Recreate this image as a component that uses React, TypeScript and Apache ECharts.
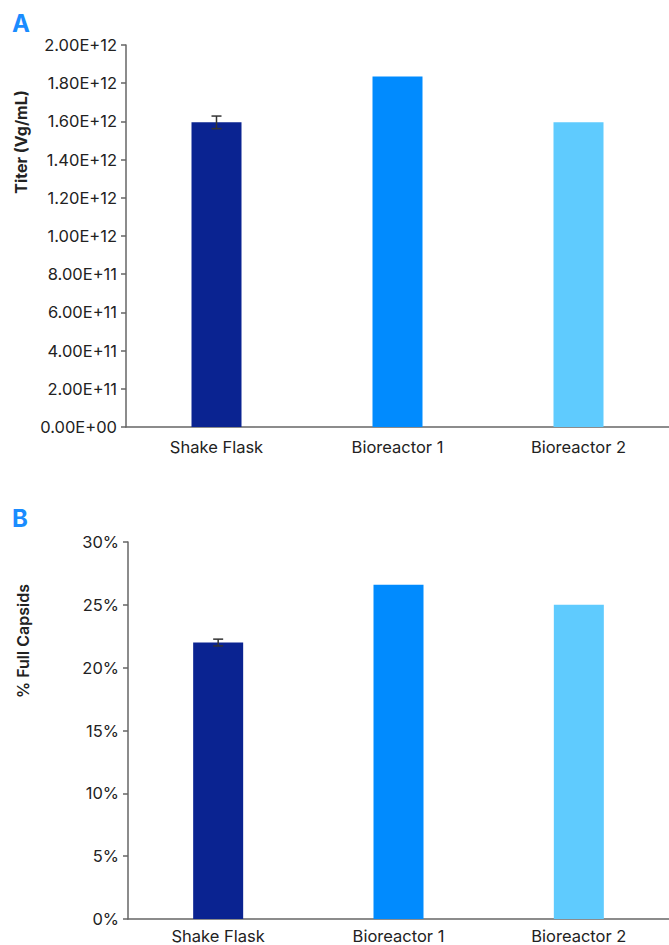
import React, { useEffect, useRef } from "react";
import * as echarts from "echarts";

const categories = ["Shake Flask", "Bioreactor 1", "Bioreactor 2"];
const titerValues = [1.595e12, 1.835e12, 1.595e12];
const titerErrors = [0.033e12, 0, 0];
const fullCapsidValues = [22.0, 26.6, 25.0];
const fullCapsidErrors = [0.27, 0, 0];
const barColors = ["#0A2391", "#018BFE", "#5FCBFE"];
const titerTickLabels = [
  "0.00E+00",
  "2.00E+11",
  "4.00E+11",
  "6.00E+11",
  "8.00E+11",
  "1.00E+12",
  "1.20E+12",
  "1.40E+12",
  "1.60E+12",
  "1.80E+12",
  "2.00E+12",
];
const capsidTickLabels = ["0%", "5%", "10%", "15%", "20%", "25%", "30%"];

const FONT = "Inter, 'Noto Sans', sans-serif";
const TEXT = "#222222";
const AXIS = "#666666";
const FS = 16.5;

function errorSeries(values: number[], errors: number[], idx: number) {
  return {
    type: "custom",
    xAxisIndex: idx,
    yAxisIndex: idx,
    z: 5,
    data: values
      .map((v, i) => [i, v, errors[i]])
      .filter((d) => d[2] > 0),
    renderItem: (params: any, api: any) => {
      const x = api.value(0);
      const v = api.value(1);
      const e = api.value(2);
      const top = api.coord([x, v + e]);
      const bot = api.coord([x, v - e]);
      const hw = 5;
      const style = { stroke: "#333333", lineWidth: 1.5 };
      return {
        type: "group",
        children: [
          { type: "line", shape: { x1: top[0], y1: top[1], x2: bot[0], y2: bot[1] }, style },
          { type: "line", shape: { x1: top[0] - hw, y1: top[1], x2: top[0] + hw, y2: top[1] }, style },
          { type: "line", shape: { x1: bot[0] - hw, y1: bot[1], x2: bot[0] + hw, y2: bot[1] }, style },
        ],
      };
    },
  };
}

function barSeries(values: number[], idx: number) {
  return {
    type: "bar",
    xAxisIndex: idx,
    yAxisIndex: idx,
    barWidth: 50,
    data: values.map((v, i) => ({ value: v, itemStyle: { color: barColors[i] } })),
  };
}

function catAxis(idx: number, margin: number) {
  return {
    type: "category",
    gridIndex: idx,
    data: categories,
    axisLine: { lineStyle: { color: AXIS, width: 1.5 } },
    axisTick: { show: false },
    axisLabel: { color: TEXT, fontSize: FS, fontFamily: FONT, margin },
  };
}

function valAxis(idx: number, max: number, interval: number, labels: string[]) {
  return {
    type: "value",
    gridIndex: idx,
    min: 0,
    max,
    interval,
    splitLine: { show: false },
    axisLine: { show: true, lineStyle: { color: AXIS, width: 1.5 } },
    axisTick: { show: true, length: 5, lineStyle: { color: AXIS, width: 1.5 } },
    axisLabel: {
      color: TEXT,
      fontSize: FS,
      fontFamily: FONT,
      margin: 9,
      formatter: (_v: number, i: number) => labels[i],
    },
  };
}

export default function App() {
  const ref = useRef<HTMLDivElement>(null);
  useEffect(() => {
    if (!ref.current) return;
    const chart = echarts.init(ref.current, null, { renderer: "svg" });
    chart.setOption({
      animation: false,
      backgroundColor: "#ffffff",
      grid: [
        { left: 126, top: 45, width: 545, height: 382 },
        { left: 128, top: 542, width: 545, height: 377 },
      ],
      xAxis: [catAxis(0, 11), catAxis(1, 8)],
      yAxis: [
        valAxis(0, 2e12, 2e11, titerTickLabels),
        valAxis(1, 30, 5, capsidTickLabels),
      ],
      graphic: [
        {
          type: "text",
          left: 12,
          top: 11,
          style: { text: "A", fill: "#1A8CFF", font: `bold 24px ${FONT}` },
        },
        {
          type: "text",
          left: 12,
          top: 506,
          style: { text: "B", fill: "#1A8CFF", font: `bold 24px ${FONT}` },
        },
        {
          type: "text",
          x: 21,
          y: 142,
          rotation: Math.PI / 2,
          style: {
            text: "Titer (Vg/mL)",
            fill: TEXT,
            font: `bold 16px ${FONT}`,
            align: "center",
            verticalAlign: "middle",
          },
        },
        {
          type: "text",
          x: 23,
          y: 641,
          rotation: Math.PI / 2,
          style: {
            text: "% Full Capsids",
            fill: TEXT,
            font: `600 16px ${FONT}`,
            align: "center",
            verticalAlign: "middle",
          },
        },
      ],
      series: [
        barSeries(titerValues, 0),
        errorSeries(titerValues, titerErrors, 0),
        barSeries(fullCapsidValues, 1),
        errorSeries(fullCapsidValues, fullCapsidErrors, 1),
      ],
    });
    return () => chart.dispose();
  }, []);
  return (
    <div
      ref={ref}
      style={{ position: "fixed", left: 0, top: 0, width: 669, height: 945 }}
    />
  );
}
